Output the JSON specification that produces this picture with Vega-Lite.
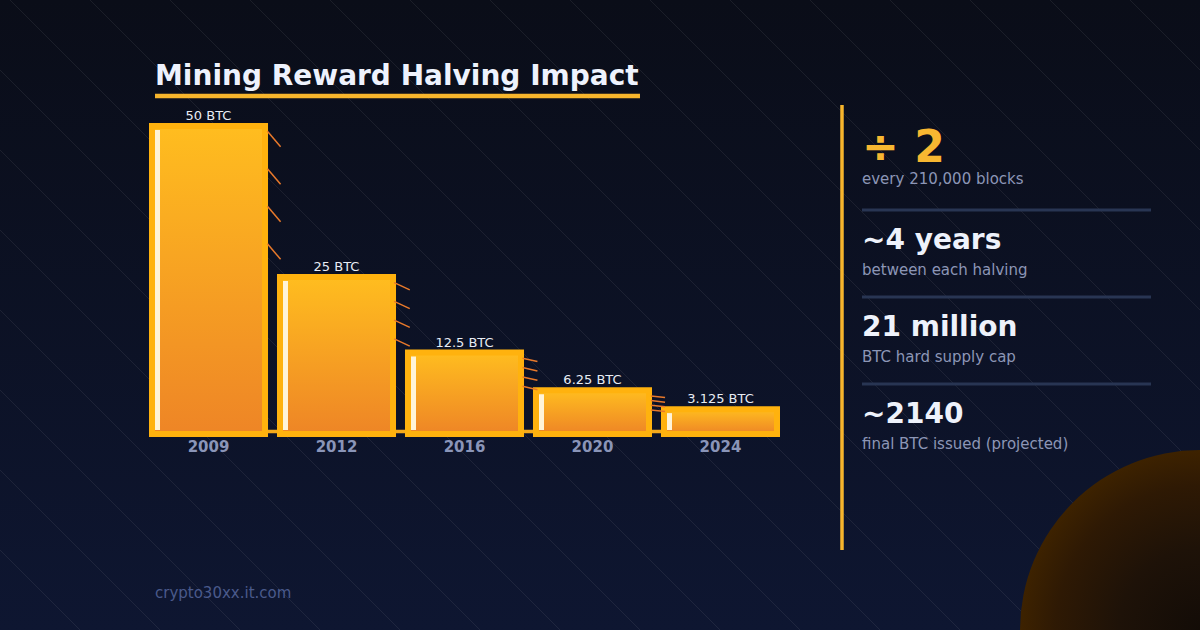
{
  "$schema": "https://vega.github.io/schema/vega-lite/v6.json",
  "width": 1200,
  "height": 630,
  "autosize": "none",
  "padding": 0,
  "background": "#0b1020",
  "view": {
    "stroke": null,
    "fill": {"gradient": "linear", "x1": 0, "y1": 0, "x2": 0, "y2": 1,
      "stops": [{"offset": 0, "color": "#0a0d18"}, {"offset": 1, "color": "#0e1631"}]}
  },
  "config": {
    "font": "DejaVu Sans",
    "text": {"font": "DejaVu Sans"},
    "axis": {"disable": true},
    "legend": {"disable": true},
    "view": {"stroke": null}
  },
  "datasets": {
    "halvings": [
      {"year": "2009", "reward": 50, "label": "50 BTC"},
      {"year": "2012", "reward": 25, "label": "25 BTC"},
      {"year": "2016", "reward": 12.5, "label": "12.5 BTC"},
      {"year": "2020", "reward": 6.25, "label": "6.25 BTC"},
      {"year": "2024", "reward": 3.125, "label": "3.125 BTC"}
    ],
    "stats": [
      {"i": 0, "head": "÷ 2", "sub": "every 210,000 blocks"},
      {"i": 1, "head": "~4 years", "sub": "between each halving"},
      {"i": 2, "head": "21 million", "sub": "BTC hard supply cap"},
      {"i": 3, "head": "~2140", "sub": "final BTC issued (projected)"}
    ],
    "grid": [
      {"k": 0}, {"k": 1}, {"k": 2}, {"k": 3}, {"k": 4}, {"k": 5}, {"k": 6}, {"k": 7},
      {"k": 8}, {"k": 9}, {"k": 10}, {"k": 11}, {"k": 12}, {"k": 13}, {"k": 14}, {"k": 15},
      {"k": 16}, {"k": 17}, {"k": 18}, {"k": 19}, {"k": 20}, {"k": 21}, {"k": 22}
    ],
    "titles": [
      {"t": "Mining Reward Halving Impact", "f": "crypto30xx.it.com"}
    ]
  },
  "layer": [
    {
      "data": {"name": "grid"},
      "mark": {"type": "rule", "color": "#ffffff", "opacity": 0.07, "strokeWidth": 1, "x2Offset": 630},
      "encoding": {
        "x": {"field": "k", "type": "quantitative", "scale": {"domain": [0, 22], "range": [-630, 1130]}, "axis": null},
        "x2": {"field": "k"},
        "y": {"datum": 0, "type": "quantitative", "scale": {"domain": [0, 1], "range": [0, 630]}, "axis": null},
        "y2": {"datum": 1}
      }
    },
    {
      "data": {"values": [{}]},
      "mark": {
        "type": "point", "shape": "circle", "filled": true, "size": 129600, "opacity": 1, "strokeWidth": 0,
        "fill": {"gradient": "radial", "x1": 0.5, "y1": 0.5, "r1": 0, "x2": 0.5, "y2": 0.5, "r2": 0.5,
          "stops": [
            {"offset": 0, "color": "#130c07"},
            {"offset": 0.45, "color": "#1e1208"},
            {"offset": 0.8, "color": "#2e1904"},
            {"offset": 1, "color": "#3d2200"}
          ]}
      },
      "encoding": {"x": {"value": "width"}, "y": {"value": "height"}}
    },
    {
      "data": {"name": "titles"},
      "mark": {"type": "rule", "color": "#f5aa1c", "strokeWidth": 3.5, "xOffset": -59.5, "x2Offset": 59.5, "yOffset": 3.5},
      "encoding": {
        "x": {"datum": "2009", "type": "nominal", "axis": null,
          "scale": {"domain": ["2009", "2012", "2016", "2020", "2024"], "range": [144.5, 784.5], "paddingInner": 0.117, "paddingOuter": 0.0586}},
        "x2": {"datum": "2024"},
        "y": {"datum": 0, "type": "quantitative", "axis": null, "scale": {"domain": [0, 50], "range": [428, 126]}}
      }
    },
    {
      "data": {"name": "halvings"},
      "encoding": {
        "x": {"field": "year", "type": "nominal", "axis": null,
          "scale": {"domain": ["2009", "2012", "2016", "2020", "2024"], "range": [144.5, 784.5], "paddingInner": 0.117, "paddingOuter": 0.0586}},
        "y": {"field": "reward", "type": "quantitative", "axis": null, "scale": {"domain": [0, 50], "range": [428, 126]}}
      },
      "layer": [
        {
          "mark": {"type": "bar", "stroke": "#ffb20e", "strokeWidth": 6, "y2Offset": 6,
            "fill": {"gradient": "linear", "x1": 0, "y1": 0, "x2": 0, "y2": 1,
              "stops": [{"offset": 0, "color": "#ffbd1f"}, {"offset": 1, "color": "#ee8526"}]}},
          "encoding": {"y2": {"datum": 0}}
        },
        {
          "mark": {"type": "bar", "color": "#fff4d8", "width": 5, "xOffset": -51, "yOffset": 4, "y2Offset": 2},
          "encoding": {"y2": {"datum": 0}}
        },
        {
          "mark": {"type": "text", "dy": -6, "baseline": "alphabetic", "fontSize": 13, "color": "#e8ecf4"},
          "encoding": {"text": {"field": "label"}}
        },
        {
          "mark": {"type": "text", "fontSize": 15, "fontWeight": "bold", "color": "#8a95b8", "baseline": "alphabetic", "yOffset": 24},
          "encoding": {"y": {"datum": 0}, "text": {"field": "year"}}
        }
      ]
    },
    {
      "data": {"name": "titles"},
      "mark": {"type": "text", "align": "left", "baseline": "alphabetic", "fontSize": 28, "fontWeight": "bold", "color": "#eef2fd", "xOffset": -53.5, "yOffset": -41},
      "encoding": {
        "x": {"datum": "2009", "type": "nominal", "axis": null,
          "scale": {"domain": ["2009", "2012", "2016", "2020", "2024"], "range": [144.5, 784.5], "paddingInner": 0.117, "paddingOuter": 0.0586}},
        "y": {"datum": 50, "type": "quantitative", "axis": null, "scale": {"domain": [0, 50], "range": [428, 126]}},
        "text": {"field": "t"}
      }
    },
    {
      "data": {"name": "titles"},
      "mark": {"type": "rule", "color": "#f7b52c", "strokeWidth": 4.5, "xOffset": -53.5, "x2Offset": 47.5, "yOffset": -30},
      "encoding": {
        "x": {"datum": "2009", "type": "nominal", "axis": null,
          "scale": {"domain": ["2009", "2012", "2016", "2020", "2024"], "range": [144.5, 784.5], "paddingInner": 0.117, "paddingOuter": 0.0586}},
        "x2": {"datum": "2020"},
        "y": {"datum": 50, "type": "quantitative", "axis": null, "scale": {"domain": [0, 50], "range": [428, 126]}}
      }
    },
    {
      "data": {"name": "titles"},
      "mark": {"type": "text", "align": "left", "baseline": "alphabetic", "fontSize": 15, "color": "#4a5a8b", "xOffset": -53.5, "yOffset": 170},
      "encoding": {
        "x": {"datum": "2009", "type": "nominal", "axis": null,
          "scale": {"domain": ["2009", "2012", "2016", "2020", "2024"], "range": [144.5, 784.5], "paddingInner": 0.117, "paddingOuter": 0.0586}},
        "y": {"datum": 0, "type": "quantitative", "axis": null, "scale": {"domain": [0, 50], "range": [428, 126]}},
        "text": {"field": "f"}
      }
    },
    {
      "data": {"name": "halvings"},
      "transform": [{"filter": "datum.year != '2024'"}],
      "mark": {"type": "point", "shape": "stroke", "filled": false, "color": "#e8792b", "strokeWidth": 1.5, "xOffset": 65.5, "opacity": 1},
      "encoding": {
        "x": {"field": "year", "type": "nominal", "axis": null,
          "scale": {"domain": ["2009", "2012", "2016", "2020", "2024"], "range": [144.5, 784.5], "paddingInner": 0.117, "paddingOuter": 0.0586}},
        "y": {"field": "reward", "type": "quantitative", "axis": null, "scale": {"domain": [0, 50], "range": [433.5, 139]}},
        "angle": {"field": "reward", "type": "quantitative", "scale": {"domain": [0, 50], "range": [0, 50]}, "legend": null},
        "size": {"field": "reward", "type": "quantitative", "scale": {"domain": [0, 50], "range": [170, 420]}, "legend": null}
      }
    },
    {
      "data": {"name": "halvings"},
      "transform": [{"filter": "datum.year != '2024'"}],
      "mark": {"type": "point", "shape": "stroke", "filled": false, "color": "#e8792b", "strokeWidth": 1.5, "xOffset": 65.5, "opacity": 1},
      "encoding": {
        "x": {"field": "year", "type": "nominal", "axis": null,
          "scale": {"domain": ["2009", "2012", "2016", "2020", "2024"], "range": [144.5, 784.5], "paddingInner": 0.117, "paddingOuter": 0.0586}},
        "y": {"field": "reward", "type": "quantitative", "axis": null, "scale": {"domain": [0, 50], "range": [433.5, 176.5]}},
        "angle": {"field": "reward", "type": "quantitative", "scale": {"domain": [0, 50], "range": [0, 50]}, "legend": null},
        "size": {"field": "reward", "type": "quantitative", "scale": {"domain": [0, 50], "range": [170, 420]}, "legend": null}
      }
    },
    {
      "data": {"name": "halvings"},
      "transform": [{"filter": "datum.year != '2024'"}],
      "mark": {"type": "point", "shape": "stroke", "filled": false, "color": "#e8792b", "strokeWidth": 1.5, "xOffset": 65.5, "opacity": 1},
      "encoding": {
        "x": {"field": "year", "type": "nominal", "axis": null,
          "scale": {"domain": ["2009", "2012", "2016", "2020", "2024"], "range": [144.5, 784.5], "paddingInner": 0.117, "paddingOuter": 0.0586}},
        "y": {"field": "reward", "type": "quantitative", "axis": null, "scale": {"domain": [0, 50], "range": [433.5, 214]}},
        "angle": {"field": "reward", "type": "quantitative", "scale": {"domain": [0, 50], "range": [0, 50]}, "legend": null},
        "size": {"field": "reward", "type": "quantitative", "scale": {"domain": [0, 50], "range": [170, 420]}, "legend": null}
      }
    },
    {
      "data": {"name": "halvings"},
      "transform": [{"filter": "datum.year != '2024'"}],
      "mark": {"type": "point", "shape": "stroke", "filled": false, "color": "#e8792b", "strokeWidth": 1.5, "xOffset": 65.5, "opacity": 1},
      "encoding": {
        "x": {"field": "year", "type": "nominal", "axis": null,
          "scale": {"domain": ["2009", "2012", "2016", "2020", "2024"], "range": [144.5, 784.5], "paddingInner": 0.117, "paddingOuter": 0.0586}},
        "y": {"field": "reward", "type": "quantitative", "axis": null, "scale": {"domain": [0, 50], "range": [433.5, 251.5]}},
        "angle": {"field": "reward", "type": "quantitative", "scale": {"domain": [0, 50], "range": [0, 50]}, "legend": null},
        "size": {"field": "reward", "type": "quantitative", "scale": {"domain": [0, 50], "range": [170, 420]}, "legend": null}
      }
    },
    {
      "data": {"name": "stats"},
      "encoding": {
        "x": {"datum": 0, "type": "quantitative", "axis": null, "scale": {"domain": [0, 1], "range": [862, 1151]}},
        "y": {"field": "i", "type": "quantitative", "axis": null, "scale": {"domain": [0, 3], "range": [162, 423]}}
      },
      "layer": [
        {
          "transform": [{"filter": "datum.i >= 1"}],
          "mark": {"type": "rule", "color": "#283553", "strokeWidth": 3, "yOffset": -39},
          "encoding": {"x2": {"datum": 1}}
        },
        {
          "mark": {"type": "text", "align": "left", "baseline": "alphabetic", "fontWeight": "bold"},
          "encoding": {
            "text": {"field": "head"},
            "size": {"condition": {"test": "datum.i === 0", "value": 44}, "value": 28},
            "color": {"condition": {"test": "datum.i === 0", "value": "#f7b731"}, "value": "#eef2fb"}
          }
        },
        {
          "transform": [{"filter": "datum.i === 0"}],
          "mark": {"type": "text", "align": "left", "baseline": "alphabetic", "fontSize": 15, "color": "#8c96b6", "dy": 21.5},
          "encoding": {"text": {"field": "sub"}}
        },
        {
          "transform": [{"filter": "datum.i >= 1"}],
          "mark": {"type": "text", "align": "left", "baseline": "alphabetic", "fontSize": 15, "color": "#8c96b6", "dy": 26},
          "encoding": {"text": {"field": "sub"}}
        }
      ]
    },
    {
      "data": {"name": "titles"},
      "mark": {"type": "rule", "color": "#f7b52c", "strokeWidth": 3.5, "xOffset": -20, "yOffset": -57, "y2Offset": 127},
      "encoding": {
        "x": {"datum": 0, "type": "quantitative", "axis": null, "scale": {"domain": [0, 1], "range": [862, 1151]}},
        "y": {"datum": 0, "type": "quantitative", "axis": null, "scale": {"domain": [0, 3], "range": [162, 423]}},
        "y2": {"datum": 3}
      }
    }
  ],
  "resolve": {"scale": {"x": "independent", "y": "independent"}}
}
